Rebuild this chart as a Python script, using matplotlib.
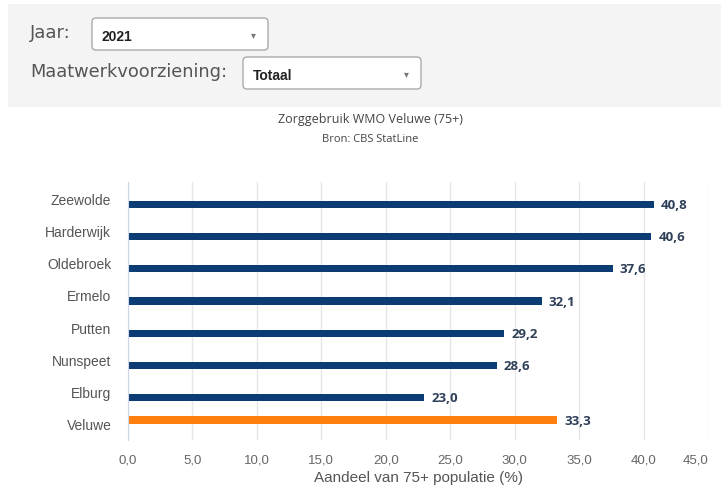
import matplotlib
matplotlib.use("Agg")
import matplotlib.pyplot as plt
from matplotlib.patches import FancyBboxPatch, Rectangle
import numpy as np

# Municipalities and share of 75+ population using WMO care (%)
gemeenten = ["Zeewolde", "Harderwijk", "Oldebroek", "Ermelo", "Putten",
             "Nunspeet", "Elburg", "Veluwe"]
gemeente_waarden = [40.8, 40.6, 37.6, 32.1, 29.2, 28.6, 23.0, None]
regio_waarden = [None, None, None, None, None, None, None, 33.3]
x_ticks = [0, 5, 10, 15, 20, 25, 30, 35, 40, 45]

W, H = 721, 489
fig = plt.figure(figsize=(W / 100, H / 100), dpi=100)
fig.patch.set_facecolor("white")

# background layer in pixel coordinates for the filter panel
bg = fig.add_axes([0, 0, 1, 1], zorder=0)
bg.set_xlim(0, W)
bg.set_ylim(H, 0)
bg.axis("off")

bg.add_patch(Rectangle((8, 5), W - 8, 103, facecolor="#f4f4f4", edgecolor="none"))

label_font = "DejaVu Sans"
bg.text(30, 33, "Jaar:", fontsize=13, color="#555555", va="center", family=label_font)
bg.text(30, 72, "Maatwerkvoorziening:", fontsize=12.8, color="#555555", va="center",
        family=label_font)

for (x0, y0, w, h, txt) in [(92, 19, 176, 32, "2021"), (243, 58, 178, 32, "Totaal")]:
    bg.add_patch(FancyBboxPatch((x0, y0), w, h, boxstyle="round,pad=0,rounding_size=4",
                                facecolor="white", edgecolor="#aaaaaa", linewidth=1))
    bg.text(x0 + 10, y0 + h / 2 + 2, txt, fontsize=10, color="#222222", va="center",
            family="Liberation Sans", fontweight="bold")
    bg.text(x0 + w - 15, y0 + h / 2, "\u25be", fontsize=7, color="#777777",
            va="center", ha="center", family="DejaVu Sans")

bg.text(370, 120, "Zorggebruik WMO Veluwe (75+)", fontsize=9, color="#444444",
        ha="center", va="center", family="Open Sans")
bg.text(370, 139, "Bron: CBS StatLine", fontsize=8, color="#444444",
        ha="center", va="center", family="Open Sans")

# bar chart area
left, right, top, bottom = 128, 708, 183, 441
ax = fig.add_axes([left / W, 1 - bottom / H, (right - left) / W, (bottom - top) / H],
                  zorder=1)
ax.set_facecolor("none")

y = np.arange(len(gemeenten))
bh = 0.22
blauw = "#0c3c74"
oranje = "#ff7f0e"

for i, v in enumerate(gemeente_waarden):
    if v is None:
        continue
    ax.barh(y[i] + 0.19, v, height=bh, color=blauw)
    ax.text(v + 0.55, y[i] + 0.19, f"{v:.1f}".replace(".", ","), va="center", ha="left",
            fontsize=9.5, fontweight="bold", color="#2e3f58", family="Open Sans")
for i, v in enumerate(regio_waarden):
    if v is None:
        continue
    ax.barh(y[i] - 0.12, v, height=bh, color=oranje)
    ax.text(v + 0.55, y[i] - 0.12, f"{v:.1f}".replace(".", ","), va="center", ha="left",
            fontsize=9.5, fontweight="bold", color="#2e3f58", family="Open Sans")

ax.set_xlim(0, 45)
ax.set_ylim(len(gemeenten) - 0.5, -0.5)
ax.set_yticks(y)
ax.set_yticklabels(gemeenten, family="Liberation Sans", fontsize=10, color="#555555")
ax.set_xticks(x_ticks)
ax.set_xticklabels([f"{t:.1f}".replace(".", ",") for t in x_ticks],
                   family="Liberation Sans", fontsize=9.5, color="#666666")
ax.get_xticklabels()[-1].set_horizontalalignment("right")
ax.tick_params(axis="y", length=0, pad=12)
ax.tick_params(axis="x", length=0, pad=10)
ax.grid(axis="x", color="#e6e6e6", linewidth=1)
ax.set_axisbelow(True)
for s in ["top", "right", "bottom"]:
    ax.spines[s].set_visible(False)
ax.spines["left"].set_color("#ccd6eb")
ax.set_xlabel("Aandeel van 75+ populatie (%)", family="Liberation Sans", fontsize=11,
              color="#555555", labelpad=3)

fig.savefig("out.png", dpi=100)
